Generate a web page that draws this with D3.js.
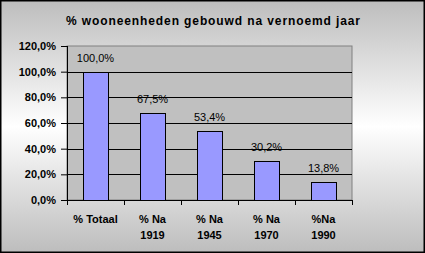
<!DOCTYPE html>
<html>
<head>
<meta charset="utf-8">
<script src="https://cdn.jsdelivr.net/npm/d3@7"></script>
<style>
  body { margin: 0; padding: 0; }
  svg { display: block; font-family: "Liberation Sans", Arial, sans-serif; }
</style>
</head>
<body>
<div id="chart"></div>
<script>
// data
var categories = [["% Totaal"], ["% Na", "1919"], ["% Na", "1945"], ["% Na", "1970"], ["%Na", "1990"]];
var values = [100.0, 67.5, 53.4, 30.2, 13.8];
var yTicks = [0, 20, 40, 60, 80, 100, 120];
var title = "% wooneenheden gebouwd na vernoemd jaar";

var width = 425, height = 253;
var margin = { top: 46, right: 73, bottom: 53, left: 67 };
var innerW = width - margin.left - margin.right;
var innerH = height - margin.top - margin.bottom;

var svg = d3.select("#chart").append("svg")
    .attr("width", width)
    .attr("height", height);

var defs = svg.append("defs");
var grad = defs.append("linearGradient")
    .attr("id", "bg")
    .attr("x1", 0).attr("y1", 0).attr("x2", 0).attr("y2", 1);
grad.append("stop").attr("offset", "0%").attr("stop-color", "#bdbdbd");
grad.append("stop").attr("offset", "50%").attr("stop-color", "#ffffff");
grad.append("stop").attr("offset", "100%").attr("stop-color", "#bdbdbd");

svg.append("rect")
    .attr("x", 0.75).attr("y", 0.75)
    .attr("width", width - 1.5).attr("height", height - 1.5)
    .attr("fill", "url(#bg)")
    .attr("stroke", "#000")
    .attr("stroke-width", 1.5);

svg.append("text")
    .attr("x", 213)
    .attr("y", 25)
    .attr("text-anchor", "middle")
    .attr("font-size", 12)
    .attr("font-weight", "bold")
    .attr("textLength", 294)
    .attr("lengthAdjust", "spacing")
    .text(title);

var g = svg.append("g").attr("transform", "translate(" + margin.left + "," + margin.top + ")");

var x = d3.scaleBand().domain(d3.range(categories.length)).range([0, innerW]).padding(0);
var y = d3.scaleLinear().domain([0, 120]).range([innerH, 0]);

// plot area
g.append("rect")
    .attr("width", innerW).attr("height", innerH)
    .attr("fill", "#c0c0c0")
    .attr("stroke", "#808080");

// gridlines
g.selectAll(".grid")
    .data(yTicks.filter(function(d){ return d > 0 && d < 120; }))
    .enter().append("line")
    .attr("class", "grid")
    .attr("x1", 0).attr("x2", innerW)
    .attr("y1", function(d){ return Math.round(y(d)) + 0.5; })
    .attr("y2", function(d){ return Math.round(y(d)) + 0.5; })
    .attr("stroke", "#000");

// bars
var barW = x.bandwidth() / 2.3;
g.selectAll(".bar")
    .data(values)
    .enter().append("rect")
    .attr("class", "bar")
    .attr("x", function(d, i){ return Math.round(x(i) + (x.bandwidth() - barW) / 2) + 0.5; })
    .attr("y", function(d){ return Math.round(y(d)) + 0.5; })
    .attr("width", Math.round(barW))
    .attr("height", function(d){ return Math.round(innerH - y(d)); })
    .attr("fill", "#9999ff")
    .attr("stroke", "#000");

// data labels
g.selectAll(".lbl")
    .data(values)
    .enter().append("text")
    .attr("class", "lbl")
    .attr("x", function(d, i){ return x(i) + x.bandwidth() / 2; })
    .attr("y", function(d){ return y(d) - 10; })
    .attr("text-anchor", "middle")
    .attr("font-size", 11)
    .text(function(d){ return d.toFixed(1).replace(".", ",") + "%"; });

// y axis
var yAxis = g.append("g")
    .call(d3.axisLeft(y).tickValues(yTicks).tickSize(6).tickPadding(5)
        .tickFormat(function(d){ return d.toFixed(1).replace(".", ",") + "%"; }));
yAxis.select(".domain").attr("stroke", "#000").attr("d", "M0.5,0V" + innerH);
yAxis.selectAll("text").attr("font-size", 11).attr("font-weight", "bold")
    .attr("font-family", "Liberation Sans, Arial, sans-serif").attr("fill", "#000");

// x axis
var xa = g.append("g").attr("transform", "translate(0," + innerH + ")");
xa.append("line").attr("x1", 0).attr("x2", innerW).attr("y1", 0.5).attr("y2", 0.5).attr("stroke", "#000");
xa.selectAll(".tk")
    .data(d3.range(categories.length + 1))
    .enter().append("line")
    .attr("x1", function(d){ return Math.round(d * x.bandwidth()) + 0.5; })
    .attr("x2", function(d){ return Math.round(d * x.bandwidth()) + 0.5; })
    .attr("y1", 0).attr("y2", 5)
    .attr("stroke", "#000");

var xl = xa.selectAll(".xl")
    .data(categories)
    .enter().append("text")
    .attr("class", "xl")
    .attr("text-anchor", "middle")
    .attr("font-size", 11)
    .attr("font-weight", "bold")
    .attr("transform", function(d, i){ return "translate(" + (x(i) + x.bandwidth() / 2) + ",23)"; });
xl.selectAll("tspan")
    .data(function(d){ return d; })
    .enter().append("tspan")
    .attr("x", 0)
    .attr("dy", function(d, i){ return i === 0 ? 0 : 16; })
    .text(function(d){ return d; });
</script>
</body>
</html>
